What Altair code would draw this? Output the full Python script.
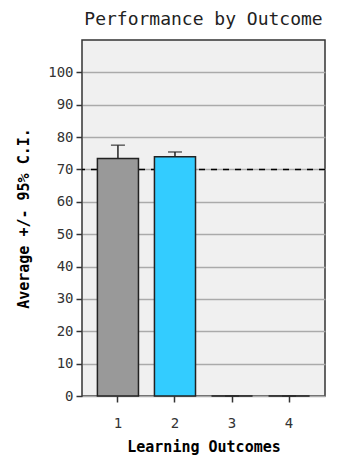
import altair as alt
import pandas as pd

outcomes = ["1", "2", "3", "4"]
means = [73.4, 73.9, 0.0, 0.0]
ci = [4.1, 1.5, 0.0, 0.0]
colors = ["#999999", "#33ccff", "#33ccff", "#33ccff"]
target = [70]

df = pd.DataFrame({
    "outcome": outcomes,
    "mean": means,
    "lo": [m - c for m, c in zip(means, ci)],
    "hi": [m + c for m, c in zip(means, ci)],
    "color": colors,
})

font = "DejaVu Sans Mono"
xaxis = alt.Axis(title="Learning Outcomes", labelAngle=0, labelFont=font,
                 labelFontSize=14, labelColor="#333", titleFont=font,
                 titleFontSize=15, titleFontWeight="bold", titleColor="#000",
                 tickColor="#333", tickSize=6, tickWidth=1.5,
                 domain=False, labelPadding=14, titlePadding=9)
xscale = alt.Scale(paddingInner=0.28, paddingOuter=0.27)
yaxis = alt.Axis(title="Average +/- 95% C.I.", values=list(range(0, 101, 10)),
                 labelFont=font, labelFontSize=14, labelColor="#333",
                 labelOverlap=False,
                 titleFont=font, titleFontSize=15, titleFontWeight="bold",
                 titleColor="#000", tickColor="#333", tickSize=6, tickWidth=1.5,
                 gridColor="#aaaaaa", gridWidth=1.5, domain=False,
                 labelPadding=3, titlePadding=16)
yscale = alt.Scale(domain=[0, 110], nice=False)

def X():
    return alt.X("outcome:N", sort=outcomes, scale=xscale, axis=xaxis)

bars = alt.Chart(df).mark_bar(stroke="#222", strokeWidth=1.5).encode(
    x=X(), y=alt.Y("mean:Q", scale=yscale, axis=yaxis),
    color=alt.Color("color:N", scale=None))

err = alt.Chart(df).mark_rule(color="#222", strokeWidth=1.5).encode(
    x=X(), y=alt.Y("lo:Q", scale=yscale, axis=yaxis), y2="hi:Q")

caps = alt.Chart(df).mark_tick(color="#222", thickness=1.5, size=14).encode(
    x=X(), y=alt.Y("hi:Q", scale=yscale, axis=yaxis))

ref = alt.Chart(pd.DataFrame({"t": target})).mark_rule(
    color="#000", strokeDash=[6, 6], strokeWidth=1.5).encode(
    y=alt.Y("t:Q", scale=yscale, axis=yaxis))

chart = alt.layer(ref, err, caps, bars).properties(
    width=243, height=356,
    title=alt.TitleParams("Performance by Outcome", font=font, fontSize=18,
                          fontWeight="normal", color="#222", offset=11),
    autosize=alt.AutoSizeParams(type="none"),
    padding={"left": 74, "top": 32, "right": 28, "bottom": 60},
).configure_view(fill="#f0f0f0", stroke="#333", strokeWidth=1.5)

chart.save("out.html", embed_options={"renderer": "svg", "actions": False})
